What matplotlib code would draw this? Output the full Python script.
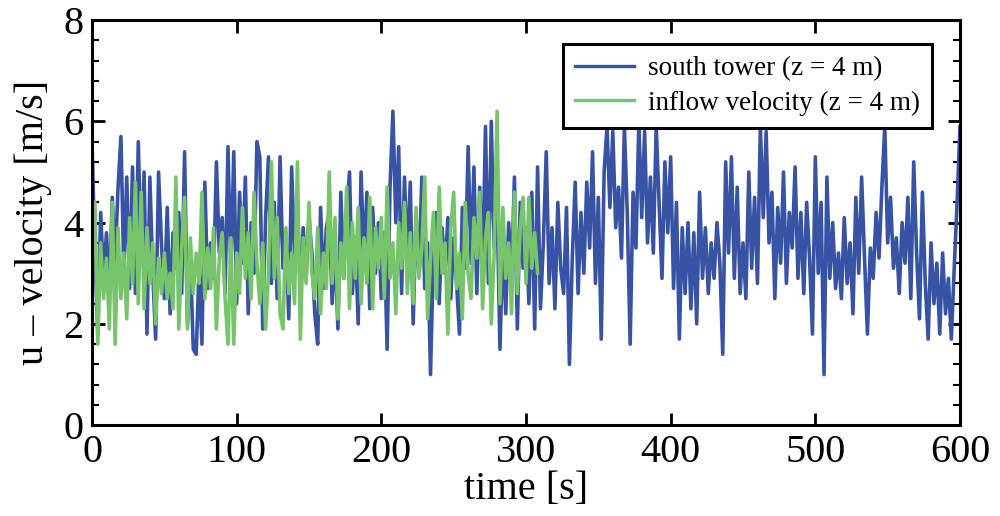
import numpy as np
import matplotlib
matplotlib.use("Agg")
import matplotlib.pyplot as plt
from matplotlib.ticker import MultipleLocator

# ---- data (2 s spacing) ----
t_blue_step = 2.0
south_tower = [
    5.6, 3.4, 1.8, 4.2, 2.9, 3.8, 2.6, 4.5, 3.2, 4.7,
    5.7, 3.0, 4.9, 2.7, 5.1, 2.6, 5.6, 3.2, 5.0, 1.8,
    4.9, 3.0, 1.7, 5.0, 3.6, 2.5, 4.3, 2.2, 3.8, 3.1,
    4.2, 2.6, 5.4, 2.0, 3.3, 1.5, 1.4, 3.1, 1.6, 4.8,
    2.7, 3.6, 2.9, 5.2, 3.4, 4.1, 2.6, 5.5, 3.0, 5.4,
    2.4, 4.6, 3.2, 4.9, 2.2, 4.0, 3.0, 5.6, 5.3, 1.9,
    4.1, 5.3, 2.8, 4.4, 2.5, 5.3, 3.1, 3.8, 2.1, 5.1,
    3.3, 4.4, 2.6, 3.9, 2.9, 4.1, 3.4, 2.2, 1.6, 4.3,
    2.7, 3.9, 4.2, 2.4, 3.5, 1.9, 4.6, 2.9, 4.2, 5.0,
    2.6, 3.7, 2.0, 5.0, 3.2, 4.6, 2.3, 4.3, 3.0, 4.0,
    2.5, 3.8, 1.5, 4.7, 6.2, 4.0, 5.5, 2.6, 4.9, 3.3,
    4.8, 2.0, 4.1, 3.0, 4.9, 2.7, 3.6, 1.0, 3.4, 4.2,
    2.4, 3.9, 3.0, 4.1, 2.5, 3.7, 2.8, 1.8, 4.3, 3.1,
    5.5, 3.2, 5.1, 2.6, 4.7, 3.0, 5.9, 2.8, 6.0, 3.5,
    4.4, 1.5, 3.6, 2.2, 4.0, 2.9, 4.9, 1.9, 4.4, 3.1,
    3.9, 2.4, 4.6, 1.9, 5.1, 2.3, 3.6, 5.4, 2.8, 3.9,
    2.3, 4.4, 3.1, 2.6, 4.3, 1.2, 3.3, 4.8, 2.6, 4.2,
    3.0, 4.8, 3.5, 5.4, 2.8, 4.5, 1.7, 5.0, 5.9, 4.3,
    5.8, 3.9, 4.7, 3.3, 5.9, 4.2, 1.6, 4.6, 3.5, 6.0,
    4.1, 5.8, 3.6, 4.9, 3.4, 5.9, 4.4, 2.9, 5.2, 3.8,
    5.3, 2.7, 4.4, 1.7, 3.9, 2.6, 4.0, 2.3, 3.8, 2.0,
    4.6, 2.9, 3.9, 2.6, 3.6, 2.9, 4.0, 3.2, 1.4, 5.2,
    3.4, 5.3, 2.9, 4.7, 2.6, 3.6, 2.5, 5.0, 3.1, 4.5,
    2.8, 5.9, 4.1, 5.8, 3.6, 4.6, 2.5, 4.3, 3.2, 5.0,
    2.8, 4.2, 3.5, 5.1, 2.9, 4.2, 2.6, 4.4, 3.3, 1.8,
    5.3, 3.0, 4.4, 1.0, 4.9, 2.9, 4.0, 2.7, 3.4, 2.5,
    4.1, 2.8, 3.6, 2.2, 4.5, 3.0, 4.9, 3.3, 1.8, 3.5,
    2.9, 4.2, 3.3, 4.7, 5.9, 3.6, 4.5, 3.1, 3.7, 2.6,
    4.0, 3.2, 4.5, 2.5, 5.2, 3.4, 2.1, 4.6, 2.8, 1.7,
    3.6, 2.4, 3.2, 1.8, 3.4, 2.2, 2.9, 1.7, 3.1, 4.4,
    5.9,
]

t_green_step = 2.0
inflow = [
    3.2, 4.4, 1.6, 3.6, 2.5, 3.3, 1.9, 4.4, 1.6, 3.9,
    2.5, 3.4, 2.1, 4.1, 2.8, 4.8, 2.4, 4.6, 2.3, 3.9,
    2.8, 3.6, 2.0, 3.3, 2.6, 3.4, 2.5, 3.0, 2.3, 4.9,
    1.9, 3.5, 4.5, 1.9, 3.7, 2.6, 3.4, 2.8, 4.6, 2.5,
    3.5, 2.7, 3.9, 1.9, 3.3, 3.8, 2.5, 1.6, 3.7, 1.6,
    3.4, 2.6, 4.3, 2.9, 3.8, 2.5, 4.6, 3.2, 2.4, 3.6,
    1.9, 3.0, 5.2, 2.9, 4.1, 2.2, 1.9, 3.9, 2.6, 3.4,
    2.4, 5.2, 1.7, 3.7, 2.8, 4.4, 3.0, 2.5, 3.9, 2.2,
    3.4, 2.7, 5.0, 2.8, 4.1, 2.1, 3.6, 2.9, 4.7, 2.3,
    4.0, 2.9, 4.3, 2.4, 3.7, 2.8, 4.5, 2.3, 3.9, 3.1,
    4.1, 2.5, 4.7, 2.9, 3.6, 2.2, 4.0, 3.1, 4.4, 2.6,
    3.8, 2.4, 4.3, 2.9, 3.5, 4.9, 2.1, 3.3, 4.2, 2.5,
    4.7, 3.0, 3.6, 1.8, 3.9, 4.6, 2.7, 3.4, 2.1, 4.4,
    3.0, 2.5, 4.1, 3.3, 4.6, 2.3, 3.7, 4.2, 2.0, 3.4,
    6.2, 2.4, 4.3, 2.9, 3.6, 2.2, 4.6, 2.6, 3.9, 4.5,
    2.8, 4.5, 3.1, 3.8, 3.0,
]

x_ticks = [0, 100, 200, 300, 400, 500, 600]
y_ticks = [0, 2, 4, 6, 8]
label_blue = "south tower (z = 4 m)"
label_green = "inflow velocity (z = 4 m)"

t_blue = np.arange(len(south_tower)) * t_blue_step
t_green = np.arange(len(inflow)) * t_green_step

plt.rcParams['font.family'] = ['Liberation Serif', 'DejaVu Serif']

fig = plt.figure(figsize=(10, 5.16), dpi=100)
ax = fig.add_axes([0.092, 0.176, 0.868, 0.785])

ax.plot(t_blue, south_tower, color='#3953a4', lw=2.6, label=label_blue)
ax.plot(t_green, inflow, color='#77c46b', lw=2.6, label=label_green)

ax.set_xlim(0, 600)
ax.set_ylim(0, 8)
ax.set_xticks(x_ticks)
ax.set_yticks(y_ticks)
ax.yaxis.set_minor_locator(MultipleLocator(0.4))
ax.tick_params(axis='both', which='both', direction='in', top=True, right=True,
               labelsize=29, width=2, colors='black')
ax.tick_params(axis='both', which='major', length=9, pad=6)
ax.tick_params(axis='y', which='minor', length=5, width=1.5)
for sp in ax.spines.values():
    sp.set_linewidth(2.2)

ax.set_xlabel("time [s]", fontsize=29, labelpad=0)
ax.set_ylabel("u \u2013 velocity [m/s]", fontsize=29, labelpad=8)

leg = ax.legend(loc='upper right', bbox_to_anchor=(0.968, 0.941), borderaxespad=0,
                fontsize=19.5, frameon=True, fancybox=False, framealpha=1,
                edgecolor='black', handlelength=2.2, handletextpad=0.5,
                borderpad=0.45, labelspacing=0.35)
leg.get_frame().set_linewidth(2.2)
for h in leg.get_lines():
    h.set_linewidth(2.4)

fig.savefig("out.png", dpi=100)
